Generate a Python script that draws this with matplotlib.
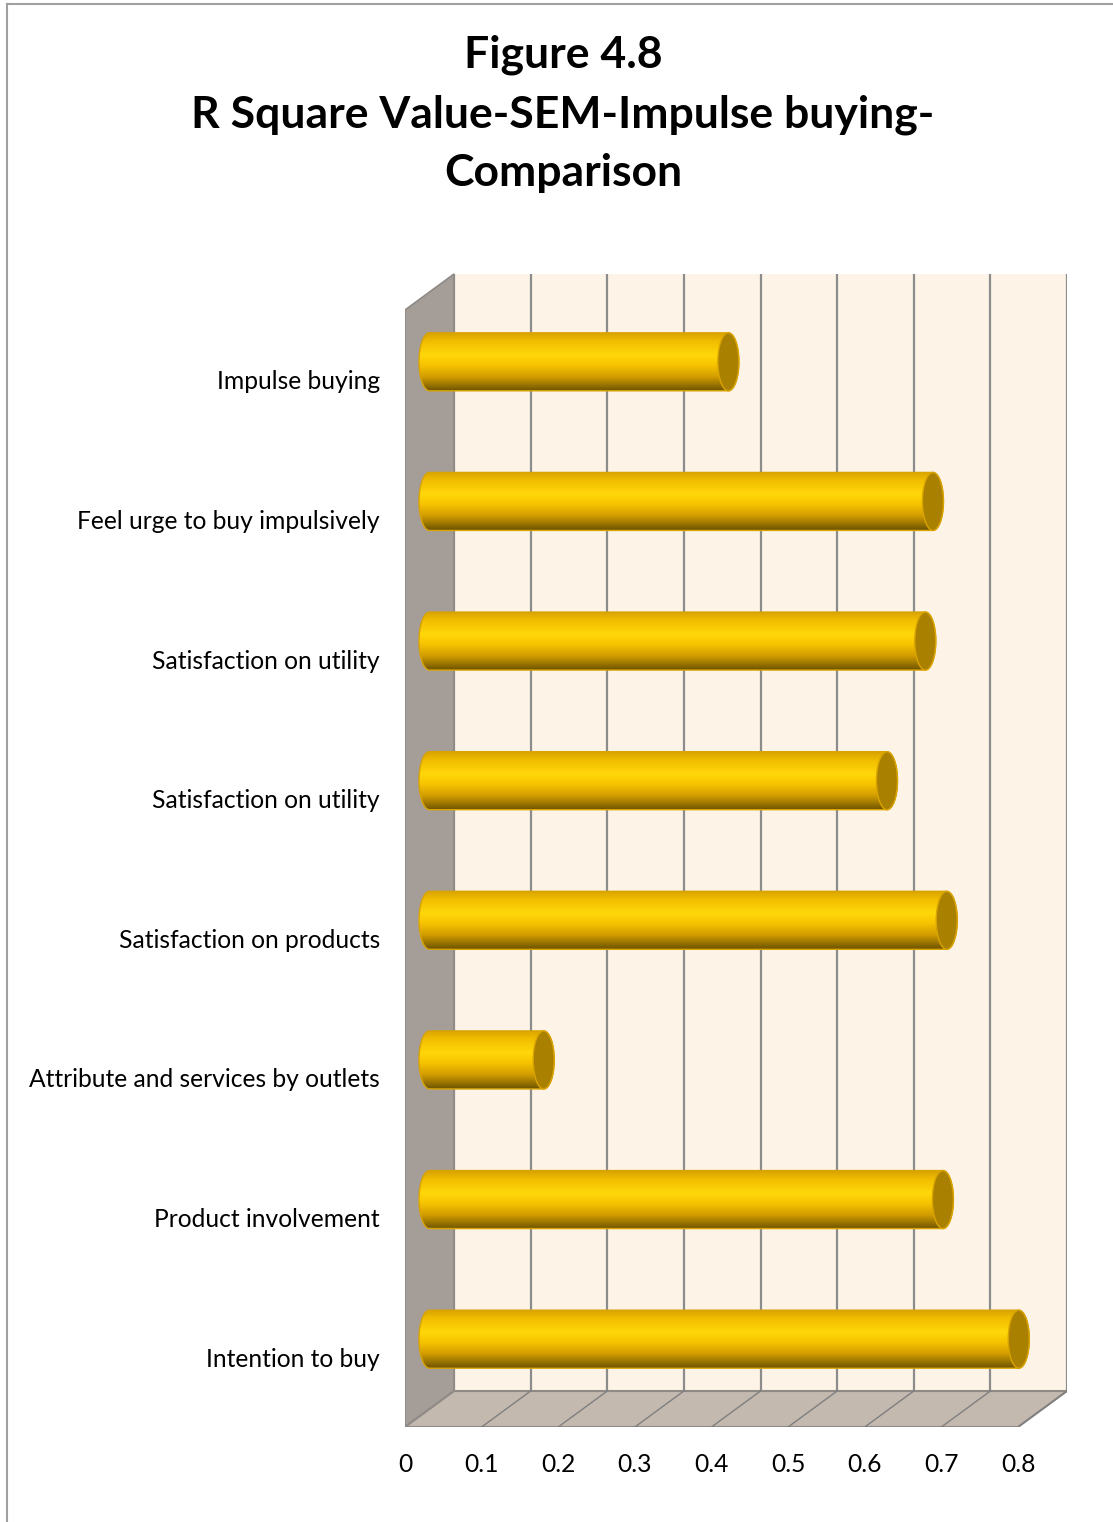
import numpy as np
import matplotlib
matplotlib.use("Agg")
import matplotlib.pyplot as plt
from matplotlib.patches import Polygon, Ellipse, PathPatch
from matplotlib.path import Path
from matplotlib.colors import LinearSegmentedColormap
from matplotlib.lines import Line2D

# ---- data (bottom to top) ----
categories = [
    "Intention to buy",
    "Product involvement",
    "Attribute and services by outlets",
    "Satisfaction on products",
    "Satisfaction on utility",
    "Satisfaction on utility",
    "Feel urge to buy impulsively",
    "Impulse buying",
]
r_square = [0.769, 0.670, 0.149, 0.675, 0.597, 0.647, 0.657, 0.390]
x_ticks = [0, 0.1, 0.2, 0.3, 0.4, 0.5, 0.6, 0.7, 0.8]
x_tick_labels = ["0", "0.1", "0.2", "0.3", "0.4", "0.5", "0.6", "0.7", "0.8"]
title_lines = ["Figure 4.8", "R Square Value-SEM-Impulse buying-", "Comparison"]

FONT = ["Lato", "DejaVu Sans"]
W, H = 1113, 1522
fig = plt.figure(figsize=(W / 100, H / 100), dpi=100)
fig.patch.set_facecolor("white")

# plot box in pixels: front plane + depth offset
px_left, px_right, px_top, px_bottom = 405, 1067, 272, 1427
unit_x = 613 / 0.8            # pixels per value unit
unit_y = 1117 / 8             # pixels per category slot
ax = fig.add_axes([px_left / W, (H - px_bottom) / H,
                   (px_right - px_left) / W, (px_bottom - px_top) / H])
xmax = (px_right - px_left) / unit_x
ymin = -0.5
ymax = ymin + (px_bottom - px_top) / unit_y
DX = 49 / unit_x
DY = 36 / unit_y
top_front = ymin + 8
top_back = top_front + DY
xend = x_ticks[-1]

for s in ax.spines.values():
    s.set_visible(False)
ax.set_facecolor("none")

# back wall
ax.add_patch(Polygon([(DX, ymin + DY), (xend + DX, ymin + DY),
                      (xend + DX, top_back), (DX, top_back)],
                     closed=True, facecolor="#FDF3E7", edgecolor="none", zorder=0))
# side wall
ax.add_patch(Polygon([(0, ymin), (DX, ymin + DY), (DX, top_back), (0, top_front)],
                     closed=True, facecolor="#A59E98", edgecolor="#8F8A86",
                     lw=1.2, zorder=1))
# floor
ax.add_patch(Polygon([(0, ymin), (xend, ymin), (xend + DX, ymin + DY), (DX, ymin + DY)],
                     closed=True, facecolor="#C3B9AF", edgecolor="#8F8A86",
                     lw=1.5, zorder=1))

# grid lines on back wall and floor
for t in x_ticks:
    ax.plot([t + DX, t + DX], [ymin + DY, top_back], color="#8C8C8C", lw=1.6,
            zorder=0.5, solid_capstyle="butt")
    if 0 < t:
        ax.plot([t, t + DX], [ymin, ymin + DY], color="#7F7F7F", lw=1.0, zorder=1.2)

# cylinder bars
cmap = LinearSegmentedColormap.from_list(
    "gold",
    [(0.0, "#6E5300"), (0.08, "#8E6C00"), (0.25, "#D49E00"), (0.45, "#F7C400"),
     (0.62, "#FFD70A"), (0.85, "#F2BE00"), (1.0, "#D8A400")])
bar_h = 58 / unit_y
cap_a = 10.5 / unit_x
grad = np.linspace(0, 1, 256).reshape(-1, 1)

for i, v in enumerate(r_square):
    yc = i + DY / 2
    x0 = DX / 2
    x1 = x0 + v
    th = np.linspace(np.pi / 2, -np.pi / 2, 60)
    right = np.column_stack([x1 + cap_a * np.cos(th), yc + bar_h / 2 * np.sin(th)])
    th2 = np.linspace(-np.pi / 2, -3 * np.pi / 2, 60)
    left = np.column_stack([x0 + cap_a * np.cos(th2), yc + bar_h / 2 * np.sin(th2)])
    verts = np.vstack([right, left, right[:1]])
    shape = PathPatch(Path(verts, closed=True), facecolor="none",
                      edgecolor="#D9A300", lw=1.0, zorder=4)
    ax.add_patch(shape)
    im = ax.imshow(grad, cmap=cmap, aspect="auto", origin="lower",
                   extent=[x0 - cap_a, x1 + cap_a, yc - bar_h / 2, yc + bar_h / 2],
                   zorder=3, interpolation="bilinear")
    im.set_clip_path(shape)
    ax.add_patch(Ellipse((x1, yc), 2 * cap_a, bar_h, facecolor="#A98000",
                         edgecolor="#D9A300", lw=1.0, zorder=5))

ax.set_xlim(0, xmax)
ax.set_ylim(ymin, ymax)

# axis labels
ax.set_xticks(x_ticks)
ax.set_xticklabels(x_tick_labels, fontsize=17.7, family=FONT, color="#000000")
ax.set_yticks(range(len(categories)))
ax.set_yticklabels(categories, fontsize=17.7, family=FONT, color="#000000")
ax.tick_params(axis="x", length=0, pad=18.5)
ax.tick_params(axis="y", length=0, pad=18)

# title, one line at a time
for yy, line in zip([55, 115, 173], title_lines):
    fig.text(563 / W, 1 - yy / H, line, ha="center", va="center",
             fontsize=32, fontweight="bold", family=FONT)

# outer frame
fig.add_artist(Line2D([7 / W, 7 / W], [0, 1 - 4 / H], color="#A0A0A0", lw=1.5))
fig.add_artist(Line2D([7 / W, 1], [1 - 4 / H, 1 - 4 / H], color="#A0A0A0", lw=1.5))

fig.savefig("out.png", dpi=100, facecolor="white")
